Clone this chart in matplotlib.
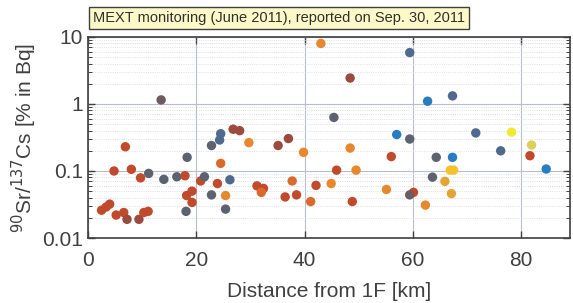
import matplotlib
matplotlib.use("Agg")
import matplotlib.pyplot as plt
from matplotlib.ticker import LogLocator, FuncFormatter, NullFormatter

plt.rcParams["font.family"] = ["Liberation Sans", "DejaVu Sans"]

# distance from 1F [km] and 90Sr/137Cs ratio [% in Bq]
distance_km = [2.5, 3.35, 4.0, 4.8, 5.2, 6.6, 6.9, 7.2, 8.0, 9.4,
               9.7, 10.3, 11.1, 11.2, 13.5, 14.0, 16.4, 17.9, 18.3, 18.2,
               19.2, 19.2, 18.1, 20.8, 21.5, 22.8, 22.8, 24.3, 24.5, 26.8,
               28.0, 29.7, 24.5, 23.9, 26.2, 25.4, 25.4, 31.2, 32.4, 32.0,
               35.1, 37.0, 39.8, 37.7, 36.4, 38.5, 41.1, 42.1, 44.9, 43.0,
               59.4, 48.4, 45.4, 62.7, 57.0, 59.4, 48.4, 56.0, 64.3, 45.9,
               49.5, 55.1, 63.6, 65.9, 60.1, 59.4, 48.8, 62.3, 67.3, 71.6,
               78.2, 76.2, 81.9, 81.6, 84.6, 67.3, 66.9, 67.5, 67.1]
ratio = [0.026, 0.029, 0.032, 0.10, 0.022, 0.024, 0.23, 0.019, 0.106, 0.019,
         0.079, 0.024, 0.025, 0.092, 1.15, 0.075, 0.082, 0.085, 0.16, 0.043,
         0.05, 0.034, 0.025, 0.071, 0.082, 0.24, 0.044, 0.29, 0.36, 0.42,
         0.40, 0.265, 0.13, 0.065, 0.074, 0.043, 0.027, 0.06, 0.055, 0.048,
         0.24, 0.305, 0.19, 0.071, 0.041, 0.044, 0.035, 0.061, 0.065, 8.0,
         5.85, 2.44, 0.63, 1.1, 0.35, 0.30, 0.22, 0.164, 0.16, 0.103,
         0.103, 0.053, 0.081, 0.07, 0.048, 0.044, 0.035, 0.031, 1.32, 0.37,
         0.38, 0.20, 0.244, 0.169, 0.107, 0.16, 0.103, 0.103, 0.046]
group = ["red", "red", "red", "red", "red", "red", "red", "brown", "red", "brown",
         "red", "red", "red", "grey", "greybrown", "grey", "grey", "red", "grey", "red",
         "red", "red", "grey", "red", "grey", "grey", "grey", "bluegrey", "bluegrey", "brown",
         "brown", "orange", "orangered", "red", "bluegrey", "orange", "grey", "red", "red", "orangered",
         "brown", "brown", "orange", "orangered", "red", "red", "orangered", "red", "orange", "orange",
         "bluegrey", "brown", "grey", "blue", "blue", "grey", "orange", "red", "grey", "red",
         "orange", "orange", "grey", "amber", "red", "greybrown", "red", "orange", "bluegrey", "bluegrey",
         "yellow", "bluegrey", "khaki", "red", "blue", "blue", "gold", "gold", "amber"]

palette = {
    "red": "#c24a2c",
    "brown": "#9c4a3e",
    "grey": "#5d6270",
    "greybrown": "#6e5a62",
    "bluegrey": "#4f6a8e",
    "orange": "#e8882e",
    "orangered": "#da6a2c",
    "blue": "#2a7cc0",
    "yellow": "#f2ea30",
    "khaki": "#dccf5c",
    "gold": "#f2c22c",
    "amber": "#e6a436",
}
colors = [palette[g] for g in group]

fig = plt.figure(figsize=(5.73, 3.03), dpi=100)
ax = fig.add_axes([0.1536, 0.2145, 0.8412, 0.6635])

ax.scatter(distance_km, ratio, s=46, c=colors, edgecolors="none", zorder=3)

ax.set_yscale("log")
ax.set_xlim(0, 89)
ax.set_ylim(0.01, 10)
ax.set_xticks([0, 20, 40, 60, 80])
ax.yaxis.set_major_locator(LogLocator(base=10))
ax.yaxis.set_minor_locator(LogLocator(base=10, subs=range(2, 10)))
ax.yaxis.set_major_formatter(FuncFormatter(lambda v, p: "%g" % v))
ax.yaxis.set_minor_formatter(NullFormatter())

ax.grid(True, which="major", color="#b8bccb", linewidth=0.8)
ax.grid(True, which="minor", axis="y", color="#d4d6de", linewidth=0.6, linestyle=":")
ax.set_axisbelow(True)

ax.tick_params(which="both", direction="in", top=True, right=True,
               colors="#404040", labelsize=15)
ax.tick_params(which="major", length=5, width=1)
ax.tick_params(which="minor", length=3, width=0.7)
ax.tick_params(axis="x", pad=9)
for sp in ax.spines.values():
    sp.set_color("#404040")
    sp.set_linewidth(1.2)

ax.set_xlabel("Distance from 1F [km]", fontsize=15, color="#404040", labelpad=9)
ax.set_ylabel(r"$^{90}$Sr/$^{137}$Cs [% in Bq]", fontsize=15, color="#404040", labelpad=2)

fig.text(0.163, 0.94, "MEXT monitoring (June 2011), reported on Sep. 30, 2011",
         fontsize=10.5, color="#303030", va="center", ha="left",
         bbox=dict(boxstyle="square,pad=0.28", facecolor="#fdf8c8",
                   edgecolor="#404040", linewidth=1))

fig.savefig("out.png", dpi=100)
